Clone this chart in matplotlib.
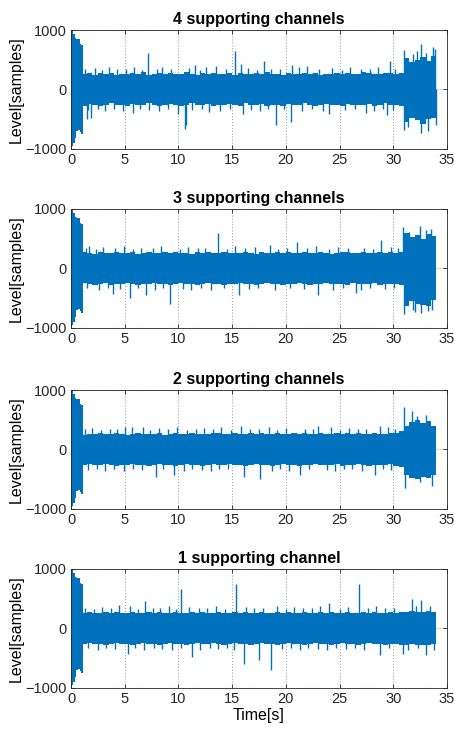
import matplotlib
matplotlib.use("Agg")
import matplotlib.pyplot as plt
import numpy as np

plt.rcParams['font.family'] = ['Liberation Sans', 'DejaVu Sans']

LINE_BLUE = '#0072BD'

titles = ['4 supporting channels', '3 supporting channels',
          '2 supporting channels', '1 supporting channel']

# onset burst (same in every recording), 0 .. 1.1 s
burst_t = [0.0, 0.2, 0.35, 0.5, 0.65, 0.8, 0.95, 1.08]
burst_up = [980, 940, 870, 850, 840, 760, 750, 750]
burst_lo = [-950, -900, -830, -700, -680, -720, -750, -750]

# envelope of the dense band, one value per 0.5 s from 0 to 34 s
env_t = np.arange(0, 34.01, 0.5)

up_4 = [260, 260, 250, 280, 240, 270, 260, 280, 235, 260, 250, 270, 260, 290,
        240, 260, 270, 250, 280, 260, 250, 290, 260, 240, 270, 260, 280, 250,
        260, 270, 240, 280, 260, 250, 270, 260, 290, 250, 260, 240, 270, 260,
        250, 280, 260, 270, 240, 260, 250, 280, 260, 270, 250, 260, 290, 270,
        260, 250, 280, 270, 260, 280, 520, 460, 500, 540, 480, 560, 560]
lo_4 = [-260, -260, -280, -250, -270, -290, -260, -240, -270, -260, -280, -250,
        -260, -270, -240, -260, -280, -260, -250, -270, -290, -260, -240, -270,
        -260, -250, -280, -260, -270, -250, -260, -280, -240, -270, -260, -250,
        -280, -260, -270, -290, -250, -260, -270, -240, -260, -280, -260, -250,
        -270, -260, -280, -250, -260, -270, -260, -250, -280, -260, -240, -270,
        -260, -280, -560, -480, -520, -580, -500, -480, -480]

up_3 = [260, 260, 270, 260, 240, 280, 250, 260, 270, 250, 260, 280, 240, 260,
        270, 260, 250, 280, 260, 270, 250, 260, 240, 270, 260, 280, 260, 250,
        270, 260, 250, 260, 280, 260, 240, 270, 260, 250, 280, 260, 270, 250,
        260, 280, 260, 250, 270, 260, 240, 260, 280, 270, 250, 260, 270, 260,
        250, 280, 260, 270, 260, 280, 600, 520, 560, 500, 580, 540, 540]
lo_3 = [-260, -260, -250, -270, -290, -260, -250, -280, -260, -270, -250, -260,
        -280, -270, -260, -250, -270, -260, -290, -260, -250, -270, -260, -280,
        -260, -250, -270, -260, -280, -260, -270, -250, -260, -270, -280, -260,
        -250, -270, -260, -280, -260, -270, -250, -260, -280, -260, -270, -250,
        -260, -270, -260, -280, -250, -260, -270, -260, -250, -280, -260, -270,
        -260, -280, -640, -560, -600, -620, -640, -540, -540]

up_2 = [260, 260, 240, 260, 250, 270, 260, 250, 270, 260, 240, 260, 270, 260,
        250, 260, 270, 240, 260, 280, 260, 250, 270, 260, 250, 260, 270, 280,
        260, 250, 270, 260, 250, 270, 260, 280, 250, 260, 270, 260, 250, 270,
        260, 280, 260, 250, 270, 260, 250, 270, 260, 280, 260, 270, 250, 260,
        270, 260, 250, 270, 280, 300, 400, 460, 500, 440, 480, 400, 400]
lo_2 = [-260, -260, -270, -250, -260, -270, -250, -260, -280, -260, -270, -250,
        -260, -270, -280, -260, -250, -270, -260, -280, -260, -250, -270, -260,
        -280, -260, -250, -270, -260, -250, -270, -260, -280, -260, -250, -270,
        -260, -280, -260, -250, -270, -260, -280, -260, -270, -250, -260, -270,
        -260, -250, -280, -260, -270, -250, -260, -280, -260, -270, -260, -250,
        -280, -300, -440, -480, -500, -460, -480, -440, -440]

up_1 = [260, 260, 250, 270, 260, 250, 270, 260, 280, 250, 260, 270, 260, 250,
        270, 260, 280, 260, 250, 270, 260, 250, 270, 260, 280, 260, 250, 270,
        260, 250, 270, 260, 280, 260, 250, 270, 260, 250, 270, 260, 280, 260,
        250, 270, 260, 250, 270, 260, 280, 260, 250, 270, 260, 250, 270, 260,
        280, 260, 250, 270, 260, 280, 270, 290, 280, 270, 290, 280, 280]
lo_1 = [-260, -260, -270, -250, -260, -270, -280, -260, -250, -270, -260, -280,
        -260, -250, -270, -260, -280, -260, -250, -270, -260, -280, -260, -250,
        -270, -260, -250, -270, -280, -260, -250, -270, -260, -280, -260, -250,
        -270, -260, -280, -260, -250, -270, -260, -280, -260, -250, -270, -260,
        -280, -260, -250, -270, -260, -280, -260, -250, -270, -260, -280, -260,
        -270, -280, -290, -270, -280, -290, -280, -270, -270]

# isolated peaks: (time s, level)
spikes_4 = [(1.45, -494), (1.85, -483), (3.5, 380), (5.8, -400), (7.16, 612),
            (8.5, 380), (9.98, -410), (10.6, -663), (10.7, -600), (11.5, 415),
            (12.8, -380), (13.5, 390), (15.3, 640), (15.8, 430), (16.0, -410),
            (18.0, 480), (19.1, -607), (20.5, -550), (20.6, 415), (22.0, 400),
            (24.0, -420), (26.0, 380), (27.5, -400), (29.4, -440), (29.7, 470),
            (31.0, 660), (31.8, 600), (32.6, 770), (33.7, 713), (31.0, -680),
            (32.6, -730), (33.2, -700), (34.0, -600), (31.4, -640),
            (32.2, 650), (33.0, 620), (33.9, 680),
            (1.3, 340), (2.2, 360), (2.9, 330), (4.3, 350), (5.1, 340),
            (5.9, 370), (6.6, 330), (8.0, 350), (9.3, 340), (11.0, 360),
            (12.0, 330), (12.6, 370), (14.4, 340), (16.5, 360), (17.3, 330),
            (18.6, 350), (19.5, 340), (21.2, 370), (23.1, 340), (24.3, 360),
            (25.2, 330), (27.0, 350), (27.8, 340), (28.6, 370), (30.2, 350),
            (1.6, -350), (2.5, -340), (3.2, -370), (4.0, -330), (4.8, -360),
            (6.4, -340), (7.3, -350), (8.2, -370), (9.0, -330), (11.3, -350),
            (12.2, -340), (13.9, -360), (14.8, -330), (16.8, -350), (17.6, -370),
            (18.3, -340), (19.8, -330), (21.5, -360), (22.4, -340), (23.5, -370),
            (25.5, -350), (26.4, -330), (28.2, -360), (29.0, -340), (30.0, -350)]
spikes_3 = [(1.7, 380), (3.9, -430), (5.5, -500), (7.0, -450), (9.2, -600),
            (13.7, 600), (15.6, -450), (18.5, 400), (21.0, 440), (23.0, -450),
            (26.5, -420), (28.9, 470), (30.9, 690), (32.5, 710), (33.5, 660),
            (31.0, -780), (32.0, -740), (32.6, -760), (33.6, -700),
            (31.5, 620), (33.0, 640), (31.8, -700), (33.2, -720),
            (1.4, 350), (2.3, 330), (3.0, 360), (4.1, 340), (4.9, 370),
            (5.8, 330), (6.5, 350), (7.6, 340), (8.4, 370), (10.1, 330),
            (10.9, 360), (11.8, 340), (12.5, 350), (14.5, 330), (15.3, 370),
            (16.2, 340), (17.1, 360), (19.3, 330), (20.1, 350), (22.0, 340),
            (22.8, 370), (24.0, 330), (24.9, 360), (25.8, 340), (27.3, 350),
            (28.1, 330), (29.8, 360), (30.4, 340),
            (1.5, -340), (2.6, -360), (3.4, -330), (4.6, -350), (6.2, -340),
            (7.8, -370), (8.6, -330), (10.4, -350), (11.2, -360), (12.1, -340),
            (13.0, -370), (14.2, -330), (16.6, -350), (17.4, -340), (19.0, -360),
            (20.4, -330), (21.7, -350), (24.4, -360), (25.3, -340), (27.0, -370),
            (27.8, -330), (29.2, -350), (30.1, -340)]
spikes_2 = [(5.0, 380), (6.7, 380), (7.9, -470), (9.6, -440), (15.8, 400),
            (16.1, -460), (17.6, -495), (21.3, -430), (23.0, 390),
            (28.3, -430), (28.8, 400), (31.0, 715), (31.7, 640), (33.0, 580),
            (31.1, -660), (32.5, -560), (33.6, -620), (32.2, 560),
            (1.3, 340), (2.0, 360), (2.8, 330), (3.6, 350), (4.3, 340),
            (5.7, 370), (7.4, 330), (8.2, 360), (9.0, 340), (9.9, 370),
            (10.8, 330), (11.6, 350), (12.4, 360), (13.2, 340), (14.0, 370),
            (14.9, 330), (16.7, 350), (17.5, 340), (18.4, 370), (19.2, 330),
            (20.0, 360), (21.8, 340), (22.5, 350), (24.2, 370), (25.0, 330),
            (25.9, 360), (26.7, 340), (27.5, 350), (29.5, 370), (30.2, 340),
            (1.6, -350), (2.4, -330), (3.2, -360), (4.0, -340), (4.9, -370),
            (5.8, -330), (6.6, -350), (8.6, -340), (10.5, -360), (11.3, -330),
            (12.2, -350), (13.0, -370), (13.8, -340), (14.6, -330), (18.7, -360),
            (19.5, -340), (20.3, -370), (22.2, -330), (23.8, -350), (24.6, -360),
            (25.4, -340), (26.2, -330), (27.1, -370), (29.0, -340), (29.8, -350)]
spikes_1 = [(4.5, 400), (5.3, -430), (6.9, 465), (10.25, 660), (11.3, -490),
            (15.4, 750), (16.1, -600), (17.5, -540), (18.6, -710),
            (24.0, 420), (26.8, 750), (28.8, -450), (30.9, -440), (31.7, 490),
            (32.6, 470), (33.0, -450),
            (1.3, 350), (2.1, 330), (2.9, 360), (3.7, 340), (5.5, 370),
            (6.2, 330), (7.6, 350), (8.3, 340), (9.1, 370), (9.8, 330),
            (11.0, 360), (11.9, 340), (12.7, 350), (13.5, 370), (14.3, 330),
            (16.3, 360), (17.0, 340), (17.9, 350), (19.2, 370), (20.0, 330),
            (20.8, 360), (21.6, 340), (22.4, 350), (23.2, 370), (25.0, 330),
            (25.8, 360), (27.6, 340), (28.4, 370), (29.2, 350), (30.1, 340),
            (33.4, 370), (32.1, 380),
            (1.6, -340), (2.5, -360), (3.3, -330), (4.1, -350), (6.0, -340),
            (6.8, -370), (7.7, -330), (8.5, -350), (9.4, -360), (10.2, -340),
            (12.0, -370), (12.9, -330), (13.7, -350), (14.5, -340), (15.2, -360),
            (19.6, -350), (20.5, -330), (21.3, -370), (22.1, -340), (23.0, -350),
            (23.8, -360), (24.7, -330), (25.6, -350), (26.4, -340), (27.3, -370),
            (29.6, -340), (31.4, -360), (32.3, -340), (33.8, -370)]

ups = [up_4, up_3, up_2, up_1]
los = [lo_4, lo_3, lo_2, lo_1]
spikes = [spikes_4, spikes_3, spikes_2, spikes_1]

fig = plt.figure(figsize=(4.55, 7.4), dpi=100)
tops = [30, 209, 390, 569]
for i in range(4):
    ax = fig.add_axes([71 / 455, 1 - (tops[i] + 118.5) / 740, 376 / 455, 118.5 / 740])
    ax.fill_between(env_t, ups[i], los[i], step='post', color=LINE_BLUE, lw=0)
    ax.fill_between(burst_t, burst_up, burst_lo, step='post', color=LINE_BLUE, lw=0)
    st = [s[0] for s in spikes[i]]
    sv = [s[1] for s in spikes[i]]
    ax.vlines(st, 0, sv, color=LINE_BLUE, lw=1.0)
    ax.set_xlim(0, 35)
    ax.set_ylim(-1000, 1000)
    ax.set_xticks(range(0, 36, 5))
    ax.set_yticks([-1000, 0, 1000])
    ax.grid(True, linestyle=':', color='#a8a8a8', lw=0.8)
    ax.set_axisbelow(True)
    ax.tick_params(direction='in', top=True, right=True, length=3, width=0.6,
                   labelsize=10.5, colors='#262626', pad=3)
    for sp in ax.spines.values():
        sp.set_color('#262626')
        sp.set_linewidth(0.6)
    ax.set_title(titles[i], fontsize=11.5, fontweight='bold', pad=4)
    ax.set_ylabel('Level[samples]', fontsize=11.5, labelpad=1)
    if i == 3:
        ax.set_xlabel('Time[s]', fontsize=11.5, labelpad=2)

fig.savefig('out.png', dpi=100)
